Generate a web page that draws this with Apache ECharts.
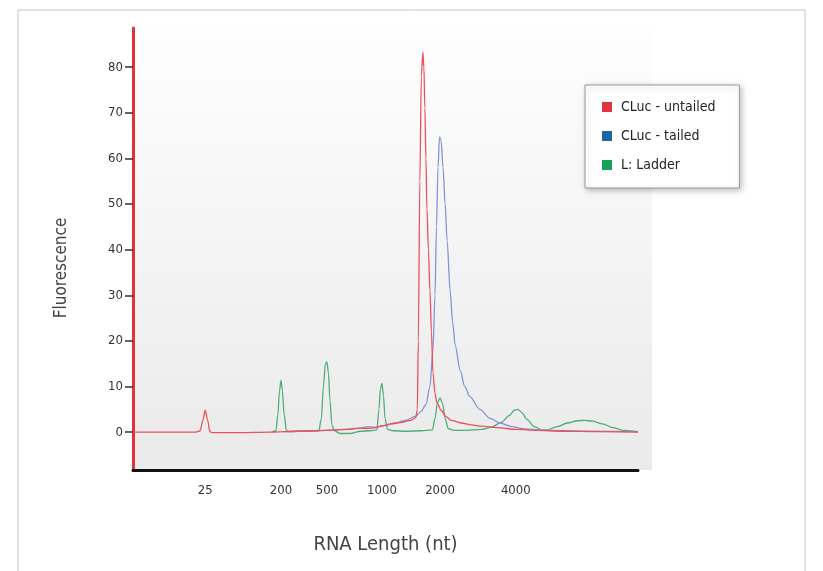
<!DOCTYPE html>
<html>
<head>
<meta charset="utf-8">
<script src="https://cdn.jsdelivr.net/npm/echarts@6/dist/echarts.min.js"></script>
<style>
  html, body { margin: 0; padding: 0; background: #fff; }
  #chart { width: 823px; height: 571px; }
</style>
</head>
<body>
<div id="chart"></div>
<script>
// x is migration position (0..100 across the plot), ticks labelled with RNA length
const xTickPos = [14.3, 29.3, 38.4, 49.3, 60.8, 75.8]
const xTickLabels = ['25', '200', '500', '1000', '2000', '4000']
const yTicks = [0, 10, 20, 30, 40, 50, 60, 70, 80]

const seriesNames = ['CLuc - untailed', 'CLuc - tailed', 'L: Ladder']

const untailed = [
  [0, 0], [12.5, 0], [13.3, 0.3], [13.8, 2.5], [14.3, 4.8], [14.8, 2.5], [15.2, 0.2], [15.6, -0.1],
  [21, -0.1], [27, 0], [33, 0.2], [38, 0.4], [43, 0.6], [45, 0.9], [46.5, 0.8], [48, 1.0],
  [49.5, 1.4], [51, 1.8], [53, 2.1], [55, 2.6], [56, 3.2], [56.3, 5], [56.5, 20], [56.8, 55],
  [57.1, 78], [57.4, 83.3], [57.6, 80], [57.8, 71], [58.0, 60], [58.2, 49], [58.5, 40], [58.8, 31],
  [59.1, 22], [59.4, 13], [59.8, 8.5], [60.2, 6.4], [61, 4.8], [62, 3.4], [63, 2.6], [65, 2.0],
  [67, 1.6], [69, 1.3], [72, 1.0], [76, 0.6], [80, 0.4], [85, 0.2], [92, 0.1], [100, 0]
]

const tailed = [
  [30, 0.1], [36, 0.3], [42, 0.6], [45, 0.9], [46.5, 1.2], [48, 1.1], [50, 1.5], [52, 2.0],
  [54, 2.6], [56, 3.5], [57, 4.5], [58, 6], [58.8, 10], [59.4, 18], [59.8, 30], [60.1, 45],
  [60.4, 58], [60.7, 64.7], [61.0, 64], [61.4, 58], [61.8, 50], [62.2, 42], [62.8, 31], [63.3, 24],
  [63.8, 19], [64.8, 13.5], [65.7, 10], [66.7, 7.8], [68.7, 5], [70.7, 3], [72.7, 2], [75, 1.2],
  [77.6, 0.7], [82, 0.4], [90, 0.2], [100, 0.1]
]

const ladder = [
  [27.5, 0], [28.3, 0.3], [28.7, 4], [29.0, 9], [29.3, 11.4], [29.6, 9], [29.9, 4], [30.4, 0.3],
  [31, 0.1], [34, 0.2], [36.8, 0.3], [37.3, 3], [37.7, 10], [38.1, 15], [38.4, 15.4], [38.7, 13],
  [39.0, 7], [39.4, 1.5], [39.9, 0.3], [41, -0.3], [43, -0.3], [45, 0.2], [47, 0.3], [48.3, 0.5],
  [48.7, 5], [49.0, 9.5], [49.3, 10.7], [49.6, 8], [49.9, 3], [50.4, 0.6], [51.5, 0.3], [54, 0.2],
  [57, 0.3], [59.3, 0.5], [59.8, 3], [60.3, 6.5], [60.8, 7.5], [61.3, 6.3], [61.8, 3], [62.4, 0.8],
  [63.5, 0.4], [66, 0.4], [69, 0.6], [71, 1.1], [73, 2.2], [74.5, 3.6], [75.5, 4.8], [76.2, 5.0],
  [77, 4.3], [78, 2.8], [79.5, 1.2], [81, 0.5], [82, 0.5], [84, 1.2], [86, 2.0], [88, 2.5],
  [89.5, 2.6], [91, 2.4], [93, 1.8], [95, 1.0], [97, 0.4], [100, 0.1]
]

const legendColors = ['#e2343f', '#1c67a5', '#17a25a']
const lineColors = ['#ee4f5a', '#8194d6', '#4fae7a']
const narrow = "'Liberation Sans Narrow', 'DejaVu Sans Condensed', 'Liberation Sans', sans-serif"

const chart = echarts.init(document.getElementById('chart'))

const lineSeries = (name, data, color, z) => ({
  name: name,
  type: 'line',
  data: data,
  showSymbol: false,
  smooth: 0.3,
  smoothMonotone: 'x',
  z: z,
  itemStyle: { color: color },
  lineStyle: { color: color, width: 1.3 }
})

chart.setOption({
  animation: false,
  backgroundColor: '#fff',
  graphic: [
    {
      type: 'rect', z: -1, silent: true,
      shape: { x: 18, y: 10, width: 787, height: 600 },
      style: { fill: 'none', stroke: '#c4c4c4', lineWidth: 1 }
    },
    {
      type: 'rect', z: -1, silent: true,
      shape: { x: 133, y: 28, width: 519, height: 442 },
      style: {
        fill: new echarts.graphic.LinearGradient(0, 0, 0, 1, [
          { offset: 0, color: '#fefefe' },
          { offset: 1, color: '#eaeaea' }
        ])
      }
    },
    {
      type: 'text', silent: true,
      x: 62, y: 268, rotation: Math.PI / 2,
      style: {
        text: 'Fluorescence', fill: '#444', font: '17px ' + narrow,
        align: 'center', verticalAlign: 'middle'
      }
    }
  ],
  legend: {
    orient: 'vertical',
    left: 585,
    top: 85,
    padding: [15, 24, 16, 17],
    itemGap: 15,
    itemWidth: 10,
    itemHeight: 10,
    icon: 'rect',
    backgroundColor: '#fff',
    borderColor: '#9a9a9a',
    borderWidth: 1,
    borderRadius: 0,
    shadowBlur: 6,
    shadowColor: 'rgba(0,0,0,0.25)',
    shadowOffsetX: 2,
    shadowOffsetY: 2,
    textStyle: { fontSize: 14, color: '#222', fontFamily: narrow, padding: [0, 0, 0, 4] },
    data: seriesNames.map((n, i) => ({ name: n, itemStyle: { color: legendColors[i] } }))
  },
  grid: { left: 133, top: 28, width: 505, height: 442 },
  xAxis: {
    type: 'value',
    min: 0,
    max: 100,
    name: 'RNA Length (nt)',
    nameLocation: 'middle',
    nameGap: 65,
    nameTextStyle: { fontSize: 20, color: '#444', fontFamily: narrow },
    axisLine: { onZero: false, lineStyle: { color: '#111', width: 3 } },
    axisTick: { show: false },
    splitLine: { show: false },
    axisLabel: {
      customValues: xTickPos,
      formatter: v => xTickLabels[xTickPos.indexOf(v)],
      fontSize: 13,
      color: '#333',
      fontFamily: narrow,
      margin: 14
    }
  },
  yAxis: {
    type: 'value',
    min: -8.3,
    max: 88.6,
    axisLine: { onZero: false, lineStyle: { color: '#e1323c', width: 3 } },
    axisTick: { show: true, customValues: yTicks, length: 8, lineStyle: { color: '#333', width: 1.5 } },
    splitLine: { show: false },
    axisLabel: {
      customValues: yTicks,
      fontSize: 13,
      color: '#333',
      fontFamily: narrow,
      margin: 10
    }
  },
  series: [
    lineSeries(seriesNames[2], ladder, lineColors[2], 2),
    lineSeries(seriesNames[1], tailed, lineColors[1], 3),
    lineSeries(seriesNames[0], untailed, lineColors[0], 4)
  ]
})
</script>
</body>
</html>
